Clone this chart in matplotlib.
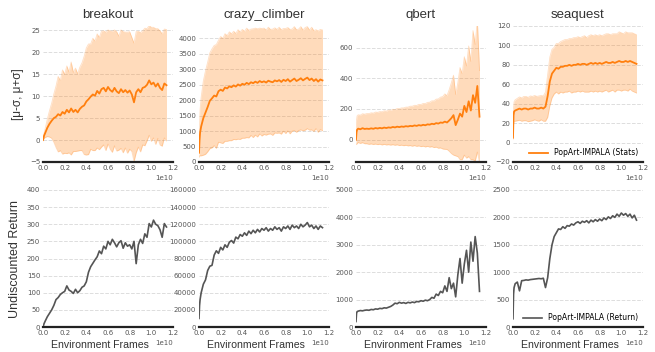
import numpy as np
import matplotlib
matplotlib.use("Agg")
import matplotlib.pyplot as plt

# frames, in units of 1e10
frames = np.r_[0.0, 0.005, 0.01, np.arange(1, 58) * 0.02]

games = ["breakout", "crazy_climber", "qbert", "seaquest"]

breakout_mu = [0, 0.5, 1.0,
    1.6, 2.8, 3.7, 4.4, 5.0,
    5.3, 5.9, 5.6, 6.4, 6.0,
    6.9, 6.3, 7.2, 6.4, 6.9,
    6.3, 7.1, 7.6, 7.9, 8.8,
    9.3, 9.9, 10.4, 10.1, 11.2,
    10.6, 11.6, 11.9, 11.1, 12.1,
    11.4, 11.0, 11.9, 11.1, 10.7,
    11.6, 10.9, 11.4, 10.8, 11.3,
    10.4, 8.6, 10.9, 11.6, 10.9,
    11.9, 12.1, 12.6, 13.6, 12.7,
    13.1, 12.2, 12.9, 11.9, 11.4,
    12.9, 12.5]
breakout_sigma = [0, 0.3, 0.6,
    1.0, 2.0, 3.0, 4.0, 5.5,
    7.0, 8.6, 8.0, 9.6, 9.0,
    10.0, 9.2, 10.6, 9.0, 9.5,
    8.8, 9.5, 10.0, 11.2, 12.2,
    12.6, 12.0, 12.8, 12.5, 13.0,
    12.8, 13.2, 13.0, 13.5, 13.0,
    13.5, 13.8, 13.2, 13.6, 13.0,
    13.5, 13.8, 13.2, 13.8, 13.4,
    13.0, 13.5, 13.8, 13.2, 13.6,
    13.0, 13.4, 12.8, 12.5, 13.0,
    12.6, 13.2, 12.5, 13.0, 12.8,
    12.4, 12.7]
breakout_ret = [0, 5, 10,
    17, 30, 40, 50, 63,
    80, 86, 95, 100, 104,
    120, 108, 104, 98, 110,
    100, 106, 116, 120, 132,
    160, 176, 186, 196, 205,
    222, 214, 236, 228, 250,
    240, 256, 246, 234, 246,
    252, 230, 246, 236, 240,
    228, 250, 185, 240, 256,
    244, 272, 262, 302, 292,
    312, 300, 296, 284, 262,
    302, 292]

crazy_mu = [300, 700, 950,
    1150, 1420, 1600, 1780, 1980,
    2060, 2150, 2120, 2290, 2340,
    2300, 2410, 2380, 2450, 2420,
    2480, 2440, 2510, 2470, 2530,
    2500, 2560, 2520, 2580, 2550,
    2600, 2560, 2620, 2580, 2610,
    2570, 2630, 2600, 2580, 2640,
    2610, 2650, 2590, 2660, 2620,
    2680, 2600, 2650, 2700, 2620,
    2660, 2710, 2640, 2690, 2730,
    2650, 2700, 2620, 2680, 2600,
    2670, 2640]
crazy_sigma = [150, 500, 750,
    950, 1200, 1350, 1450, 1550,
    1600, 1620, 1680, 1650, 1720,
    1700, 1740, 1710, 1760, 1730,
    1750, 1720, 1770, 1740, 1760,
    1730, 1770, 1740, 1720, 1760,
    1730, 1750, 1710, 1740, 1720,
    1700, 1730, 1690, 1720, 1700,
    1680, 1710, 1690, 1660, 1700,
    1670, 1690, 1650, 1680, 1660,
    1640, 1670, 1630, 1660, 1650,
    1620, 1660, 1630, 1600, 1640,
    1620, 1630]
crazy_ret = [10000, 25000, 32000,
    40000, 50000, 55000, 66000, 71000,
    72000, 84000, 89000, 86000, 93000,
    90000, 96000, 93000, 99000, 101000,
    98000, 105000, 103000, 108000, 106000,
    110000, 107000, 112000, 109000, 113000,
    110000, 114000, 111000, 115000, 113000,
    116000, 112000, 115000, 113000, 117000,
    114000, 116000, 112000, 117000, 115000,
    118000, 114000, 119000, 116000, 118000,
    115000, 120000, 117000, 119000, 122000,
    117000, 119000, 115000, 118000, 114000,
    118000, 116000]

qbert_mu = [0, 50, 65,
    72, 68, 75, 70, 72,
    70, 74, 71, 76, 73,
    77, 74, 79, 76, 80,
    78, 83, 80, 85, 82,
    86, 84, 88, 86, 90,
    88, 93, 90, 95, 92,
    97, 94, 100, 98, 104,
    101, 108, 105, 112, 110,
    118, 112, 125, 140, 160,
    95, 130, 170, 150, 220,
    180, 250, 190, 290, 240,
    350, 150]
qbert_sigma = [30, 80, 90,
    90, 92, 94, 96, 98,
    100, 101, 102, 104, 105,
    106, 108, 109, 110, 112,
    113, 115, 116, 118, 120,
    121, 123, 124, 126, 128,
    130, 131, 133, 135, 137,
    139, 141, 143, 146, 149,
    152, 156, 160, 165, 170,
    180, 175, 200, 230, 260,
    200, 240, 300, 280, 320,
    300, 360, 320, 420, 380,
    430, 300]
qbert_ret = [200, 500, 560,
    580, 600, 590, 610, 620,
    610, 640, 630, 660, 650,
    680, 670, 700, 690, 720,
    750, 800, 870, 850, 900,
    870, 890, 860, 900, 880,
    910, 890, 930, 920, 960,
    940, 980, 960, 1000, 1080,
    1050, 1200, 1150, 1300, 1250,
    1500, 1300, 1800, 1400, 1600,
    1100, 1900, 2500, 1600, 2300,
    2800, 2000, 3100, 2400, 3300,
    2700, 1300]

seaquest_mu = [5, 28, 32,
    33, 34, 35, 34, 35,
    35, 34, 35, 35, 36,
    35, 35, 36, 35, 37,
    48, 63, 71, 74, 77,
    76, 78, 78, 79, 79,
    80, 79, 80, 80, 81,
    80, 81, 81, 80, 81,
    82, 81, 82, 81, 82,
    81, 82, 83, 82, 82,
    83, 82, 83, 84, 83,
    83, 84, 83, 84, 83,
    82, 81]
seaquest_sigma = [2, 8, 10,
    11, 11.5, 12, 12, 12.5,
    12.5, 12.5, 13, 12.5, 12.5,
    12.5, 13, 12.5, 13, 15,
    22, 25, 25, 24, 25,
    26, 26, 27, 27, 27,
    27, 28, 28, 28, 28,
    28, 28, 29, 28, 29,
    29, 29, 29, 29, 29,
    29, 29, 29, 30, 29,
    29, 30, 29, 30, 30,
    29, 30, 30, 29, 30,
    30, 30]
seaquest_ret = [150, 600, 720,
    790, 820, 660, 845, 850,
    860, 855, 865, 870, 875,
    880, 885, 880, 890, 720,
    900, 1250, 1500, 1650, 1720,
    1790, 1780, 1830, 1800, 1850,
    1840, 1880, 1860, 1900, 1920,
    1890, 1930, 1910, 1940, 1900,
    1950, 1920, 1960, 1930, 1970,
    1940, 1990, 1960, 2010, 1980,
    2030, 2000, 2060, 2020, 2080,
    2040, 2070, 2020, 2060, 1990,
    2040, 1950]

mus = [breakout_mu, crazy_mu, qbert_mu, seaquest_mu]
sigmas = [breakout_sigma, crazy_sigma, qbert_sigma, seaquest_sigma]
rets = [breakout_ret, crazy_ret, qbert_ret, seaquest_ret]

top_ylims = [(-5, 26), (0, 4400), (-145, 740), (-20, 120)]
top_ticks = [[-5, 0, 5, 10, 15, 20, 25],
             [0, 500, 1000, 1500, 2000, 2500, 3000, 3500, 4000],
             [0, 200, 400, 600],
             [-20, 0, 20, 40, 60, 80, 100, 120]]
bot_ylims = [(0, 400), (0, 160000), (0, 5000), (0, 2500)]
bot_ticks = [np.arange(0, 401, 50), np.arange(0, 160001, 20000),
             np.arange(0, 5001, 1000), np.arange(0, 2501, 500)]

W, H = 655, 352
fig = plt.figure(figsize=(W / 100, H / 100), dpi=100)
lefts = [43, 199, 356, 513]
orange = "#ff7f0e"
grey = "#555555"
lab_font = ["Liberation Sans", "DejaVu Sans"]


def style(ax, ylim, ticks):
    ax.set_xlim(0, 1.2e10)
    ax.set_ylim(*ylim)
    ax.set_yticks(ticks)
    ax.set_xticks(np.arange(0, 1.21, 0.2) * 1e10)
    for s in ["left", "right", "top"]:
        ax.spines[s].set_visible(False)
    ax.spines["bottom"].set_linewidth(1.6)
    ax.spines["bottom"].set_color("#222222")
    ax.tick_params(length=0, labelsize=5, labelcolor="#555555", pad=2)
    ax.yaxis.grid(True, ls="--", color="#dddddd", lw=0.7)
    ax.set_axisbelow(True)
    ax.xaxis.get_offset_text().set_fontsize(5)
    ax.xaxis.get_offset_text().set_color("#555555")


x = frames * 1e10
for i, g in enumerate(games):
    mu = np.array(mus[i])
    sd = np.array(sigmas[i])
    ax = fig.add_axes([lefts[i] / W, (H - 162) / H, 130 / W, 136 / H])
    style(ax, top_ylims[i], top_ticks[i])
    ax.fill_between(x, mu - sd, mu + sd, color=orange, alpha=0.28, lw=0)
    ax.plot(x, mu + sd, color=orange, alpha=0.25, lw=0.6)
    ax.plot(x, mu - sd, color=orange, alpha=0.25, lw=0.6)
    ax.plot(x, mu, color=orange, lw=1.3, label="PopArt-IMPALA (Stats)")
    ax.set_title(g, fontsize=9.5, color="#333333", pad=6, family=lab_font)
    if i == 0:
        ax.set_ylabel("[μ-σ, μ+σ]", fontsize=8.5, color="#333333",
                      family=lab_font)
    if i == 3:
        ax.legend(loc="lower right", frameon=False, fontsize=5.5,
                  handlelength=2.5, borderaxespad=0.2)

    ax2 = fig.add_axes([lefts[i] / W, (H - 327) / H, 130 / W, 137 / H])
    style(ax2, bot_ylims[i], bot_ticks[i])
    ax2.plot(x, rets[i], color=grey, lw=1.2, label="PopArt-IMPALA (Return)")
    ax2.set_xlabel("Environment Frames", fontsize=7.6, color="#333333",
                   labelpad=3, family=lab_font)
    ax2.xaxis.label.set_x(0.44)
    if i == 0:
        ax2.set_ylabel("Undiscounted Return", fontsize=9, color="#333333",
                       family=lab_font)
    if i == 3:
        ax2.legend(loc="lower right", frameon=False, fontsize=5.5,
                   handlelength=2.5, borderaxespad=0.2)

fig.savefig("out.png", dpi=100)
